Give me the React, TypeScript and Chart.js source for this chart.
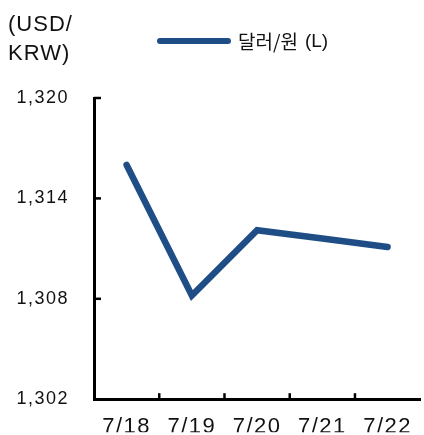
import React, { useEffect, useRef } from "react";
import { Chart, registerables } from "chart.js";

Chart.register(...registerables);

const categories = ["7/18", "7/19", "7/20", "7/21", "7/22"];
const usdKrw = [1316.0, 1308.2, 1312.1, 1311.6, 1311.1];
const seriesLabel = "달러/원";
const seriesSide = "(L)";
const unitLabel = ["(USD/", "KRW)"];
const yMin = 1302;
const yMax = 1320;
const yStep = 6;

const LINE_COLOR = "#1f4e87";

const inwardTicks = {
  id: "inwardTicks",
  beforeDraw(chart: any) {
    (chart.ctx as any).letterSpacing = "1.5px";
  },
  afterDraw(chart: any) {
    const { ctx, chartArea, scales } = chart;
    const x = scales.x;
    const y = scales.y;
    ctx.save();
    ctx.strokeStyle = "#000";
    ctx.lineWidth = 2.5;
    y.ticks.forEach((t: any) => {
      if (t.value === y.min) return;
      const py = y.getPixelForValue(t.value);
      ctx.beginPath();
      ctx.moveTo(chartArea.left, py);
      ctx.lineTo(chartArea.left + 7, py);
      ctx.stroke();
    });
    for (let i = 1; i < categories.length; i++) {
      const px = (x.getPixelForValue(i - 1) + x.getPixelForValue(i)) / 2;
      ctx.beginPath();
      ctx.moveTo(px, chartArea.bottom);
      ctx.lineTo(px, chartArea.bottom - 6);
      ctx.stroke();
    }
    ctx.restore();
  },
};

export default function App() {
  const ref = useRef<HTMLCanvasElement | null>(null);

  useEffect(() => {
    if (!ref.current) return;
    const chart = new Chart(ref.current, {
      type: "line",
      data: {
        labels: categories,
        datasets: [
          {
            label: seriesLabel,
            data: usdKrw,
            borderColor: LINE_COLOR,
            backgroundColor: LINE_COLOR,
            borderWidth: 6.5,
            borderCapStyle: "round",
            borderJoinStyle: "miter",
            pointRadius: 0,
            tension: 0,
            clip: false as any,
          },
        ],
      },
      options: {
        animation: false,
        responsive: false,
        maintainAspectRatio: false,
        layout: { padding: { top: 98, left: 0, right: 0, bottom: 0 } },
        plugins: {
          legend: { display: false },
          tooltip: { enabled: false },
        },
        scales: {
          x: {
            offset: true,
            afterFit: (s: any) => {
              s.height = 33;
            },
            grid: { display: false, drawTicks: false },
            border: { display: true, color: "#000", width: 3 },
            ticks: {
              padding: 15,
              color: "#111",
              font: { family: "'Liberation Sans', Arial, sans-serif", size: 22 },
              maxRotation: 0,
              autoSkip: false,
            },
          },
          y: {
            min: yMin,
            max: yMax,
            afterFit: (s: any) => {
              s.width = 94;
            },
            grid: { display: false, drawTicks: false },
            border: { display: true, color: "#000", width: 3 },
            ticks: {
              stepSize: yStep,
              padding: 25,
              color: "#111",
              font: { family: "'Liberation Sans', Arial, sans-serif", size: 18 },
            },
          },
        },
      },
      plugins: [inwardTicks],
    });
    return () => chart.destroy();
  }, []);

  return (
    <div
      style={{
        position: "fixed",
        left: 0,
        top: 0,
        width: 424,
        height: 435,
        overflow: "hidden",
        background: "#fff",
      }}
    >
      <canvas
        ref={ref}
        width={424}
        height={435}
        style={{ position: "absolute", left: 0, top: 0, width: 424, height: 435 }}
      />
      <div
        style={{
          position: "absolute",
          left: 8,
          top: 9,
          fontFamily: "'Liberation Sans', Arial, sans-serif",
          fontSize: 22,
          lineHeight: "29px",
          letterSpacing: "1px",
          color: "#111",
        }}
      >
        <div>{unitLabel[0]}</div>
        <div>{unitLabel[1]}</div>
      </div>
      <div
        style={{
          position: "absolute",
          left: 157,
          top: 27,
          display: "flex",
          alignItems: "center",
          fontFamily: "'Liberation Sans', 'Noto Sans CJK KR', sans-serif",
          fontSize: 19,
          color: "#111",
        }}
      >
        <span
          style={{
            display: "inline-block",
            width: 74,
            height: 6,
            borderRadius: 3,
            background: LINE_COLOR,
            marginRight: 7,
          }}
        />
        <span style={{ fontFamily: "'Noto Sans CJK KR', sans-serif" }}>{seriesLabel}</span>
        <span style={{ marginLeft: 7 }}>{seriesSide}</span>
      </div>
    </div>
  );
}
